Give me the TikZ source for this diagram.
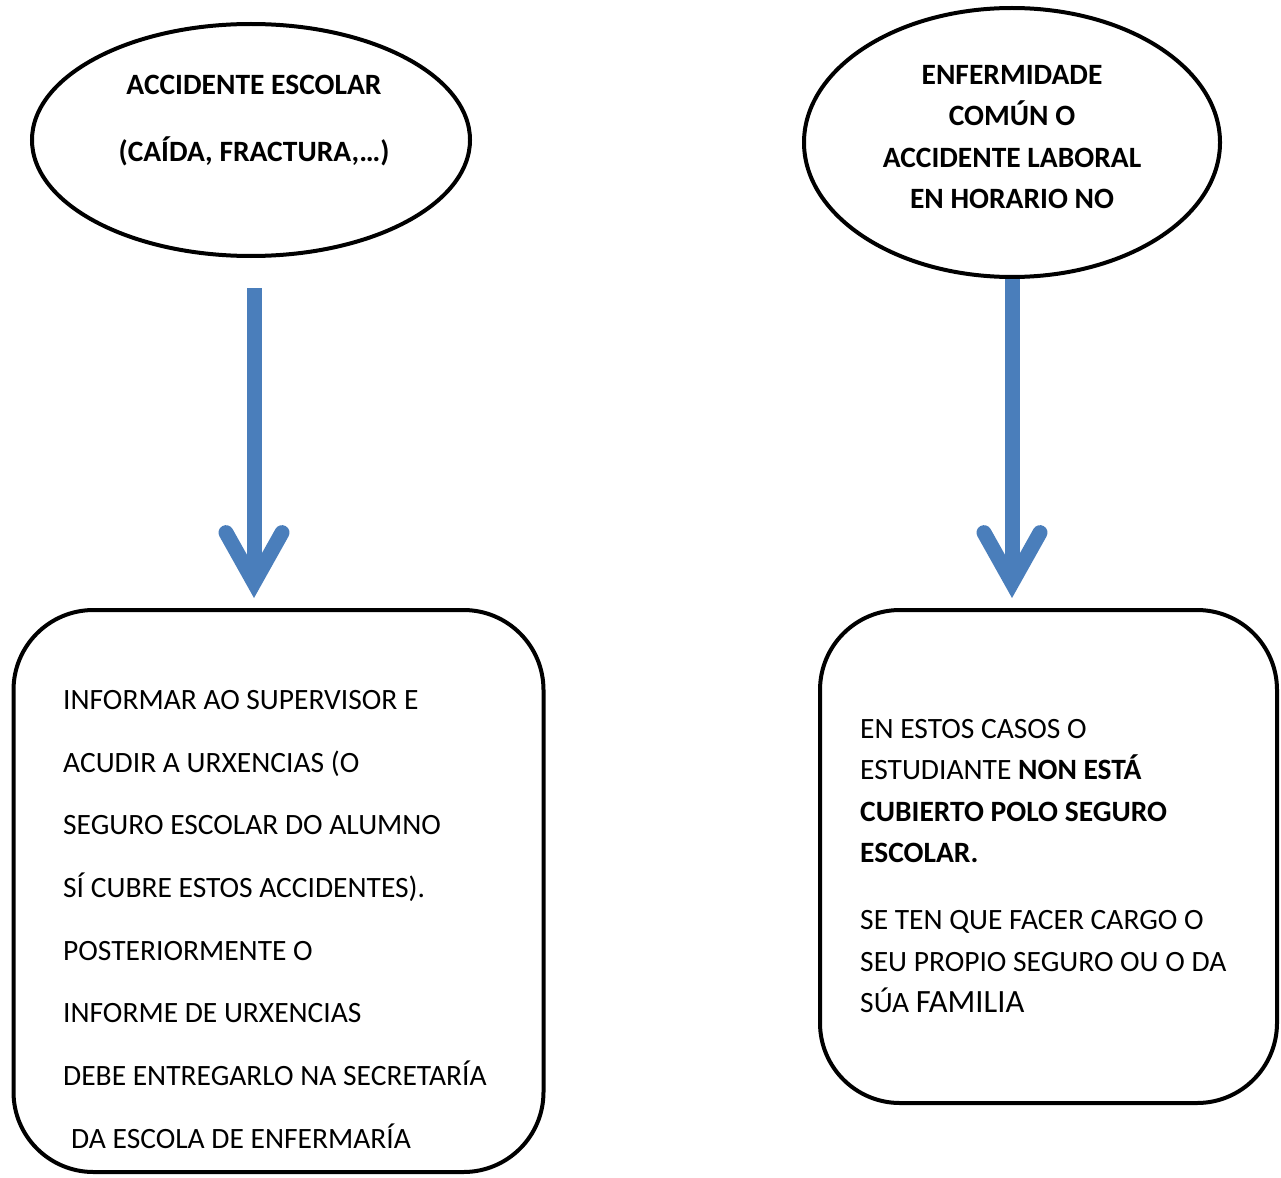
\documentclass[tikz,border=0pt]{standalone}
\usepackage{fontspec}
\setmainfont{Carlito}
\usetikzlibrary{shapes.geometric,arrows.meta}
\definecolor{arrowblue}{HTML}{4A7EBB}
\begin{document}
\begin{tikzpicture}[x=1pt,y=-1pt,
    oval/.style = {draw, ellipse, line width=4pt, inner sep=0pt},
    card/.style = {draw, rectangle, rounded corners=80pt, line width=4pt, inner sep=0pt},
    title/.style = {font=\fontsize{29.5}{41.5}\selectfont\bfseries, align=center, inner sep=0pt},
    body/.style = {font=\fontsize{29.5}{41.5}\selectfont, align=left, inner sep=0pt},
    arrow/.style = {arrowblue, line width=15pt, -{Straight Barb[line cap=round, line join=miter, length=50pt, width=56pt]}}]
    \useasboundingbox (0,0) rectangle (1281,1177);

    % left: accidente escolar
    \node [oval, minimum width=438pt, minimum height=232pt] (acc) at (251,140) {};
    \node [title, anchor=north] (accT) at (254,75) {ACCIDENTE ESCOLAR\\[25.5pt](CAÍDA, FRACTURA,…)};

    \node [card, minimum width=530pt, minimum height=562pt] (box1) at (278.5,891) {};
    \node [body, font=\fontsize{29.5}{62.7}\selectfont, anchor=north west] (accB) at (63,690)
        {INFORMAR AO SUPERVISOR E\\
         ACUDIR A URXENCIAS (O\\
         SEGURO ESCOLAR DO ALUMNO\\
         SÍ CUBRE ESTOS ACCIDENTES).\\
         POSTERIORMENTE O\\
         INFORME DE URXENCIAS\\
         DEBE ENTREGARLO NA SECRETARÍA\\
         \hspace*{8pt}DA ESCOLA DE ENFERMARÍA};

    % right: enfermidade comun
    \node [oval, minimum width=416pt, minimum height=269pt] (enf) at (1012,142.5) {};
    \node [title, anchor=north] (enfT) at (1012,65) {ENFERMIDADE\\COMÚN O\\ACCIDENTE LABORAL\\EN HORARIO NO};

    \node [card, minimum width=457pt, minimum height=493pt] (box2) at (1048.5,856.5) {};
    \node [body, anchor=north west] (enfB) at (860,719)
        {EN ESTOS CASOS O\\
         ESTUDIANTE \textbf{NON ESTÁ}\\
         \textbf{CUBIERTO POLO SEGURO}\\
         \textbf{ESCOLAR.}\\[25.5pt]
         SE TEN QUE FACER CARGO O\\
         SEU PROPIO SEGURO OU O DA\\
         SÚA {\fontsize{32.5}{41.5}\selectfont FAMILIA}};

    \draw[arrow] ([shift={(3,30)}]acc.south) -- ([shift={(3,-10)}]acc.south |- box1.north);
    \draw[arrow] (enf.south) -- ([shift={(0,-10)}]enf.south |- box2.north);
\end{tikzpicture}
\end{document}
